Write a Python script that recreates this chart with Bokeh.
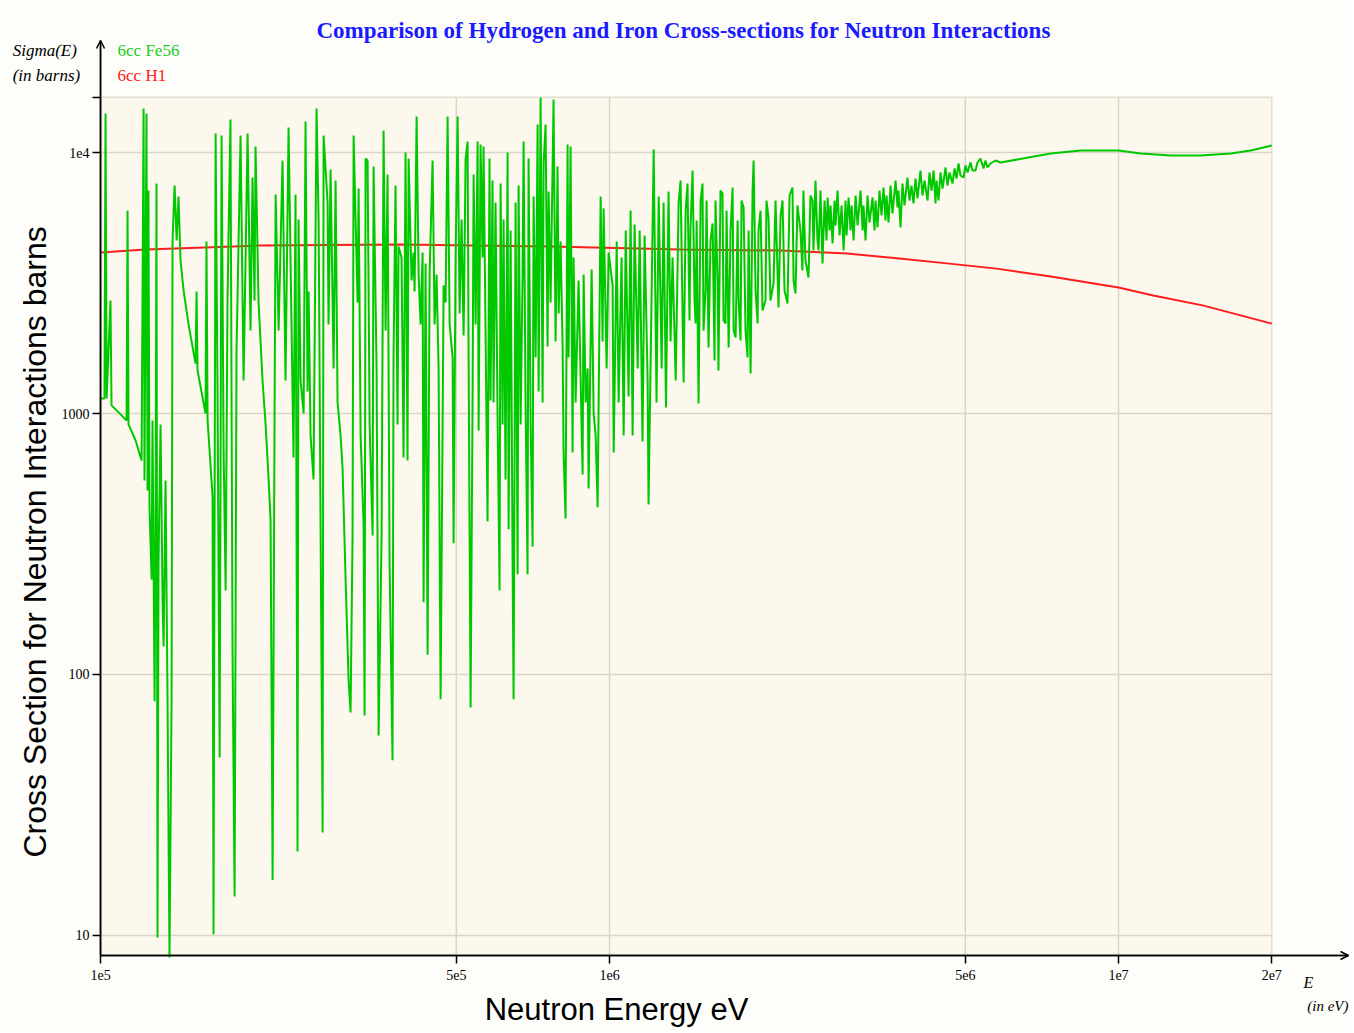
import math
from bokeh.plotting import figure
from bokeh.models import Range1d, FixedTicker, Label, Arrow, OpenHead
from bokeh.embed import file_html
from bokeh.resources import INLINE

title_text = "Comparison of Hydrogen and Iron Cross-sections for Neutron Interactions"
x_tick_values = [1e5, 5e5, 1e6, 5e6, 1e7, 2e7]
x_tick_labels = ["1e5", "5e5", "1e6", "5e6", "1e7", "2e7"]
y_tick_values = [10, 100, 1000, 10000, 16300]
y_tick_labels = ["10", "100", "1000", "1e4", ""]
x_grid_values = [5e5, 1e6, 5e6, 1e7]
y_grid_values = [10, 100, 1000, 10000]
legend_names = ["6cc Fe56", "6cc H1"]

# H1 cross-section (barns) vs neutron energy (eV)
h1_energy = [1.0e5, 1.226e5, 2.04e5, 3.89e5, 7.66e5, 1.38e6, 2.17e6, 2.93e6, 3.67e6,
             4.60e6, 5.76e6, 7.36e6, 1.0e7, 1.17e7, 1.47e7, 2.0e7]
h1_sigma = [4140, 4250, 4400, 4440, 4360, 4250, 4210, 4100, 3930,
            3760, 3590, 3350, 3040, 2830, 2590, 2210]

# Fe56 cross-section (barns) vs neutron energy (eV)
fe56_energy = [
    1.000e5, 1.018e5, 1.023e5, 1.028e5, 1.046e5, 1.051e5, 1.095e5, 1.125e5, 1.130e5, 1.135e5,
    1.172e5, 1.204e5, 1.215e5, 1.220e5, 1.231e5, 1.237e5, 1.242e5, 1.248e5, 1.260e5, 1.265e5,
    1.277e5, 1.283e5, 1.288e5, 1.294e5, 1.300e5, 1.312e5, 1.324e5, 1.330e5, 1.342e5, 1.354e5,
    1.366e5, 1.379e5, 1.385e5, 1.398e5, 1.411e5, 1.423e5, 1.436e5, 1.456e5, 1.489e5, 1.537e5,
    1.544e5, 1.551e5, 1.608e5, 1.615e5, 1.623e5, 1.660e5, 1.667e5, 1.683e5, 1.698e5, 1.714e5,
    1.729e5, 1.745e5, 1.761e5, 1.776e5, 1.800e5, 1.817e5, 1.834e5, 1.850e5, 1.884e5, 1.910e5,
    1.945e5, 1.971e5, 1.989e5, 2.007e5, 2.016e5, 2.044e5, 2.081e5, 2.110e5, 2.139e5, 2.158e5,
    2.178e5, 2.198e5, 2.208e5, 2.238e5, 2.278e5, 2.309e5, 2.341e5,
    2.394e5, 2.416e5, 2.438e5, 2.449e5, 2.472e5, 2.506e5, 2.528e5, 2.551e5, 2.563e5, 2.586e5,
    2.621e5, 2.657e5, 2.682e5, 2.706e5, 2.731e5, 2.743e5, 2.793e5, 2.805e5, 2.831e5, 2.870e5,
    2.896e5, 2.922e5, 2.962e5, 2.989e5, 3.030e5, 3.071e5, 3.099e5, 3.127e5, 3.142e5, 3.199e5,
    3.214e5, 3.243e5, 3.287e5, 3.302e5, 3.317e5, 3.347e5, 3.378e5, 3.424e5, 3.439e5, 3.486e5,
    3.518e5, 3.566e5, 3.598e5, 3.631e5, 3.664e5, 3.697e5, 3.747e5, 3.764e5, 3.798e5, 3.833e5,
    3.850e5, 3.903e5, 3.938e5, 3.974e5, 4.010e5, 4.029e5, 4.084e5, 4.121e5, 4.140e5, 4.178e5,
    4.216e5, 4.254e5, 4.293e5, 4.312e5, 4.351e5, 4.391e5, 4.431e5, 4.491e5, 4.532e5, 4.573e5,
    4.615e5, 4.657e5, 4.721e5, 4.764e5, 4.807e5, 4.851e5, 4.917e5, 4.939e5, 4.984e5, 5.030e5,
    5.075e5, 5.121e5, 5.168e5, 5.215e5, 5.262e5, 5.286e5, 5.334e5, 5.383e5, 5.407e5, 5.456e5,
    5.506e5, 5.531e5, 5.580e5, 5.631e5, 5.656e5, 5.707e5, 5.759e5, 5.811e5,
    5.837e5, 5.890e5, 5.917e5, 5.971e5, 6.025e5, 6.081e5, 6.109e5, 6.164e5, 6.192e5, 6.248e5,
    6.306e5, 6.334e5, 6.392e5, 6.450e5, 6.479e5, 6.538e5, 6.598e5, 6.627e5, 6.688e5, 6.748e5,
    6.779e5, 6.840e5, 6.902e5, 6.934e5, 6.998e5, 7.061e5, 7.093e5, 7.158e5, 7.223e5, 7.256e5,
    7.321e5, 7.388e5, 7.421e5, 7.488e5, 7.556e5, 7.590e5, 7.659e5, 7.728e5, 7.763e5, 7.834e5,
    7.905e5, 7.943e5, 8.014e5, 8.087e5, 8.123e5, 8.197e5, 8.272e5, 8.309e5, 8.385e5, 8.461e5,
    8.499e5, 8.577e5, 8.694e5, 8.853e5, 8.894e5, 8.974e5, 9.057e5, 9.097e5, 9.222e5, 9.306e5,
    9.391e5, 9.476e5, 9.606e5, 9.692e5, 9.736e5, 9.869e5, 9.959e5,
    1.014e6, 1.019e6, 1.033e6, 1.042e6, 1.056e6, 1.066e6, 1.076e6, 1.090e6, 1.100e6, 1.110e6,
    1.120e6, 1.136e6, 1.146e6, 1.161e6, 1.172e6, 1.188e6, 1.193e6, 1.209e6, 1.221e6, 1.237e6,
    1.249e6, 1.266e6, 1.277e6, 1.291e6, 1.306e6, 1.318e6, 1.330e6, 1.349e6, 1.367e6, 1.379e6,
    1.398e6, 1.411e6, 1.423e6, 1.436e6, 1.442e6, 1.456e6, 1.469e6, 1.476e6, 1.483e6, 1.496e6,
    1.510e6, 1.523e6, 1.530e6, 1.544e6, 1.551e6, 1.565e6, 1.579e6, 1.594e6, 1.608e6, 1.615e6,
    1.630e6, 1.637e6, 1.652e6, 1.667e6, 1.675e6, 1.690e6, 1.698e6, 1.714e6, 1.729e6, 1.745e6,
    1.753e6, 1.769e6, 1.785e6, 1.793e6, 1.809e6, 1.817e6, 1.834e6, 1.850e6, 1.867e6, 1.876e6,
    1.893e6, 1.910e6, 1.919e6, 1.936e6, 1.954e6, 1.962e6, 1.980e6, 1.998e6, 2.025e6, 2.034e6,
    2.053e6, 2.071e6, 2.100e6, 2.119e6, 2.148e6, 2.168e6, 2.187e6, 2.207e6, 2.237e6, 2.258e6,
    2.288e6, 2.299e6, 2.319e6, 2.340e6, 2.372e6, 2.393e6, 2.404e6, 2.426e6, 2.460e6, 2.482e6,
    2.505e6, 2.516e6, 2.539e6, 2.562e6, 2.574e6, 2.597e6, 2.621e6,
    2.645e6, 2.669e6, 2.682e6, 2.706e6, 2.718e6, 2.743e6, 2.768e6, 2.780e6, 2.805e6, 2.831e6,
    2.857e6, 2.883e6, 2.909e6, 2.922e6, 2.949e6, 2.975e6, 2.989e6, 3.016e6, 3.044e6, 3.071e6,
    3.113e6, 3.142e6, 3.155e6, 3.184e6, 3.213e6, 3.242e6, 3.286e6, 3.316e6, 3.331e6, 3.361e6,
    3.392e6, 3.423e6, 3.454e6, 3.485e6, 3.501e6, 3.533e6, 3.565e6, 3.597e6, 3.647e6, 3.680e6,
    3.696e6, 3.730e6, 3.763e6, 3.798e6, 3.849e6, 3.884e6, 3.920e6, 3.955e6, 3.992e6, 4.028e6,
    4.083e6, 4.120e6, 4.158e6, 4.215e6, 4.253e6, 4.292e6, 4.331e6, 4.370e6, 4.390e6, 4.430e6,
    4.470e6, 4.511e6, 4.572e6, 4.614e6, 4.655e6, 4.719e6, 4.762e6, 4.805e6, 4.849e6, 4.893e6,
    4.960e6, 5.005e6, 5.050e6, 5.119e6, 5.166e6, 5.236e6, 5.284e6, 5.355e6, 5.429e6, 5.478e6,
    5.528e6, 5.604e6, 5.732e6, 5.863e6,
    7.359e6, 8.428e6, 1.000e7, 1.106e7, 1.267e7, 1.450e7, 1.662e7, 1.819e7, 2.000e7,
]
fe56_sigma = [
    1142, 1142, 14110, 1142, 2710, 1074, 992, 940, 5996, 908,
    788, 661, 14750, 554, 14110, 507, 7150, 437, 231, 940,
    78.9, 464, 7605, 9.83, 273, 908, 192, 128, 554, 79.6,
    8.24, 79.6, 4560, 7472, 4600, 6783, 3858, 2960, 2194, 1555,
    2934, 1461, 1000, 4560, 940, 481, 10.1, 11830, 1122, 48.1,
    11620, 722, 210, 2710, 13380, 119, 14.1, 1744, 11620, 1338,
    11830, 2080, 8022, 2710, 10540, 2663, 1338, 908, 559, 389,
    16.3, 1122, 6903, 2080, 9320, 1338, 12470,
    678, 6903, 21.0, 5540, 1338, 1000, 13150, 1215, 2934, 824,
    559, 14750, 5440, 360, 24.8, 11620, 6433, 2194, 8608, 1488,
    7809, 1102, 824, 616, 231, 95.7, 71.6, 341, 11620, 2663,
    7280, 824, 376, 69.7, 9485, 9320, 908, 341, 8839, 1488,
    58.4, 341, 12140, 2080, 8236, 266, 46.9, 1639, 7472, 908,
    4364, 3960, 678, 10000, 661, 9485, 3232, 4140, 2934, 13740,
    3408, 2194, 4140, 189, 3757, 119, 3408, 9320, 2194, 3408,
    1488, 80.3, 3094, 2663, 13740, 2194, 1639, 318, 3960, 13740,
    2416, 5540, 1990, 9485, 11020, 1639, 74.8, 1215, 8236, 2194,
    11020, 861, 10730, 3960, 10540, 2080, 386, 9485,
    1122, 7809, 1102, 6433, 1000, 210, 7605, 908, 5540, 559,
    10000, 360, 5025, 266, 80.3, 6433, 242, 7472, 908, 3408,
    11020, 1102, 242, 9485, 908, 309, 6783, 1639, 12800, 1215,
    16240, 1102, 9075, 12800, 1806, 7090, 2663, 8608, 15960, 1888,
    8839, 2416, 4560, 1806, 709, 396, 10730, 1639, 10540, 709,
    3960, 1102, 3232, 584, 3408, 1102, 1488, 516, 3563, 1000,
    824, 437, 6783, 1888, 6100, 1488, 4140,
    3094, 709, 4560, 1102, 3960, 824, 5025, 1162, 5996, 824,
    5298, 1488, 5025, 781, 4808, 1338, 448, 2663, 10270, 1102,
    6783, 1488, 6433, 1055, 7090, 1888, 3960, 1338, 6433, 7809,
    1315, 5995, 7605, 2272, 5025, 8532, 2710, 2213, 5490, 1092,
    6548, 7605, 2080, 2960, 6548, 1790, 4600, 5346, 1596, 6548,
    3232, 1461, 7150, 6964, 2272, 2213, 5995, 1790, 5025, 7343,
    2080, 1955, 5490, 2710, 1905, 6548, 6157, 2080, 1639, 5025,
    1423, 7150, 9319, 2960, 2213, 5025, 5995, 2481, 2710, 6548,
    5636, 2710, 3149, 6548, 2548, 5736, 6548, 2960, 2640, 6842,
    7343, 3232, 2883, 6267, 5025, 3531, 7150, 3858, 3319, 6842,
    6548, 4212, 7809, 4600, 4212, 7150, 3757,
    6548, 4600, 6725, 5025, 6267, 4480, 6548, 5253, 7150, 4808,
    6267, 4212, 6548, 4808, 6725, 5025, 6267, 4600, 6842, 5253,
    7150, 5025, 6267, 4600, 6842, 5392, 6725, 5025, 6548, 5160,
    7150, 5736, 7343, 5490, 6842, 5392, 7472, 5838, 7809, 6157,
    7150, 5160, 7605, 6267, 8022, 6548, 7472, 6377, 7951, 6665,
    8532, 6842, 7809, 6548, 8383, 7150, 8532, 6377, 7809, 6548,
    8383, 7279, 8761, 7472, 8383, 7605, 8684, 7951, 9075, 8164,
    8022, 8917, 8383, 9156, 8532, 8532, 9156, 9484, 8684, 9319,
    8761, 9075, 9319, 9156,
    9912, 10180, 10180, 9912, 9739, 9739, 9912, 10180, 10640,
]
assert len(fe56_energy) == len(fe56_sigma), (len(fe56_energy), len(fe56_sigma))

# visible extents (values): frame fills the whole canvas
x_lo, x_hi = 6.36e4, 2.856e7
y_lo, y_hi = 4.325, 38230
axis_x_end = 2.83e7       # where the energy axis arrow ends
axis_y_end = 26860        # where the sigma axis arrow ends
axis_y_base = 8.383       # sigma value at which the energy axis sits
cream_top = 16300

p = figure(width=1350, height=1030, x_axis_type="log", y_axis_type="log",
           x_range=Range1d(x_lo, x_hi), y_range=Range1d(y_lo, y_hi),
           output_backend="svg", toolbar_location=None,
           min_border_left=0, min_border_right=0, min_border_top=0, min_border_bottom=0)
p.background_fill_color = "#fdfdf9"
p.border_fill_color = "#fdfdf9"
p.outline_line_color = None
p.grid.visible = False

# cream plotting area
p.quad(left=[x_tick_values[0]], right=[x_tick_values[-1]], bottom=[axis_y_base], top=[cream_top],
       fill_color="#fcf8ed", line_color="#e2dfd3", line_width=1.5)

# grid lines inside the cream area
p.segment(x0=[x_tick_values[0]] * len(y_grid_values), x1=[x_tick_values[-1]] * len(y_grid_values),
          y0=y_grid_values, y1=y_grid_values, line_color="#d9d6c9", line_width=1.5)
p.segment(x0=x_grid_values, x1=x_grid_values, y0=[axis_y_base] * len(x_grid_values),
          y1=[cream_top] * len(x_grid_values), line_color="#d9d6c9", line_width=1.5)

p.line(h1_energy, h1_sigma, line_color="#ff1c1c", line_width=2)
p.line(fe56_energy, fe56_sigma, line_color="#00c800", line_width=2)

xa = p.xaxis[0]
ya = p.yaxis[0]
xa.fixed_location = axis_y_base
ya.fixed_location = x_tick_values[0]
xa.bounds = (x_tick_values[0], axis_x_end)
ya.bounds = (axis_y_base, axis_y_end)
for ax, ticks, labels in ((xa, x_tick_values, x_tick_labels), (ya, y_tick_values, y_tick_labels)):
    ax.ticker = FixedTicker(ticks=ticks)
    ax.major_label_overrides = {float(t): l for t, l in zip(ticks, labels)}
    ax.axis_line_color = "black"
    ax.axis_line_width = 1.5
    ax.major_tick_line_color = "black"
    ax.major_tick_line_width = 1.5
    ax.major_tick_out = 8
    ax.major_tick_in = 0
    ax.minor_tick_line_color = None
    ax.major_label_text_font = "Liberation Serif"
    ax.major_label_text_font_size = "14px"
    ax.major_label_text_color = "black"
xa.major_label_standoff = 7
ya.major_label_standoff = 3

# axis arrows
p.add_layout(Arrow(end=OpenHead(size=8, line_width=1.5, line_color="black"),
                   x_start=x_tick_values[0], y_start=axis_y_base, x_end=axis_x_end, y_end=axis_y_base,
                   line_width=1.5))
p.add_layout(Arrow(end=OpenHead(size=8, line_width=1.5, line_color="black"),
                   x_start=x_tick_values[0], y_start=axis_y_base, x_end=x_tick_values[0], y_end=axis_y_end,
                   line_width=1.5))

def lab(x, y, text, **kw):
    opts = dict(text_baseline="middle", text_font="Liberation Serif", text_font_size="17px",
                text_color="black")
    opts.update(kw)
    p.add_layout(Label(x=x, y=y, text=text, **opts))

lab(1.398e6, 29340, title_text, text_align="center", text_font_style="bold",
    text_font_size="23px", text_color="#1a1aff")
lab(6.72e4, 24600, "Sigma(E)", text_font_style="italic")
lab(6.72e4, 19720, "(in barns)", text_font_style="italic")
lab(1.08e5, 24600, legend_names[0], text_color="#1ecc1e")
lab(1.08e5, 19720, legend_names[1], text_color="#ff2020")
lab(2.31e7, 6.61, "E", text_font_style="italic", text_font_size="16px")
lab(2.83e7, 5.39, "(in eV)", text_align="right", text_font_style="italic", text_font_size="15px")
lab(1.032e6, 5.2, "Neutron Energy eV", text_align="center", text_font="Liberation Sans",
    text_font_size="31px")
lab(7.45e4, 335, "Cross Section for Neutron Interactions  barns", text_align="center",
    text_font="Liberation Sans", text_font_size="32px", angle=math.pi / 2)

open("out.html", "w").write(file_html(p, INLINE))
